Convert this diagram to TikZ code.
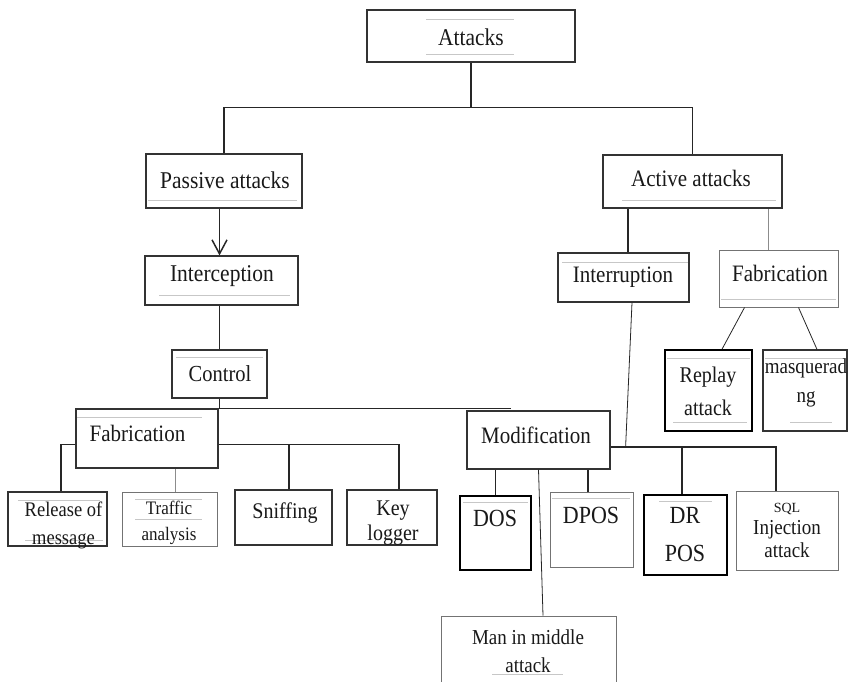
\documentclass[tikz,border=0pt]{standalone}
\usepackage{fontspec}
\setmainfont{Liberation Serif}
\usetikzlibrary{arrows.meta,calc}
\newcommand{\tallline}[1]{\scalebox{1}[1.12]{#1}}

\begin{document}
\begin{tikzpicture}[x=1pt,y=-1pt,
  box/.style={draw=black!80, line width=1.2pt, fill=white, inner sep=0pt},
  dbox/.style={box, draw=black, line width=1.6pt},
  lbox/.style={box, draw=black!55, line width=1pt},
  lbl/.style={font=\fontsize{21.5}{24}\selectfont, align=center, inner sep=0pt, text=black!90},
  link/.style={draw=black!85, line width=1.1pt},
  thinlink/.style={draw=black!85, line width=0.8pt},
  glink/.style={draw=black!45, line width=1pt},
  rule/.style={draw=black!22, line width=0.9pt},
  ]
\useasboundingbox (0,0) rectangle (848,681);

% ---------- boxes ----------
\node[box,  minimum width=208pt, minimum height=52pt] (attacks)      at (471,36)    {};
\node[box,  minimum width=156pt, minimum height=54pt] (passive)      at (224,181)   {};
\node[box,  minimum width=153pt, minimum height=49pt] (interception) at (221.5,280.5) {};
\node[box,  minimum width=95pt,  minimum height=48pt] (control)      at (219.5,374) {};
\node[box,  minimum width=142pt, minimum height=59pt] (fabL)         at (147,438.5) {};
\node[box,  minimum width=143pt, minimum height=58pt] (modification) at (538.5,440) {};
\node[box,  minimum width=99pt,  minimum height=54pt] (release)      at (57.5,519)  {};
\node[lbox, minimum width=95pt,  minimum height=54pt] (traffic)      at (169.5,519) {};
\node[box,  minimum width=97pt,  minimum height=55pt] (sniffing)     at (283.5,517.5) {};
\node[box,  minimum width=90pt,  minimum height=55pt] (keylogger)    at (392,517.5) {};
\node[dbox, minimum width=71pt,  minimum height=74pt] (dos)          at (495.5,533) {};
\node[lbox, minimum width=83pt,  minimum height=75pt] (dpos)         at (591.5,530) {};
\node[dbox, minimum width=83pt,  minimum height=80pt] (drpos)        at (685.5,535) {};
\node[lbox, minimum width=102pt, minimum height=79pt] (sql)          at (787,530.5) {};
\node[lbox, minimum width=175pt, minimum height=78pt] (mitm)         at (528.5,655) {};
\node[box,  minimum width=179pt, minimum height=53pt] (active)       at (692.5,181.5) {};
\node[box,  minimum width=131pt, minimum height=49pt] (interruption) at (623.5,277.5) {};
\node[lbox, minimum width=119pt, minimum height=57pt] (fabR)         at (778.5,278.5) {};
\node[dbox, minimum width=87pt,  minimum height=81pt] (replay)       at (708.5,390.5) {};
\node[box,  minimum width=84pt,  minimum height=81pt] (masq)         at (805,390.5) {};

% ---------- thin grey rules inside the boxes ----------
\draw[rule] (426,19) -- (514,19);  \draw[rule] (426,54) -- (514,54);
\draw[rule] (148,200) -- (297,200);
\draw[rule] (159,295) -- (290,295);
\draw[rule] (622,200) -- (776,200);
\draw[rule] (562,262) -- (688,262);
\draw[rule] (721,299) -- (836,299);
\draw[rule] (176,357) -- (263,357);
\draw[rule] (77,417) -- (202,417);
\draw[rule] (667,358) -- (750,358); \draw[rule] (673,422) -- (747,422);
\draw[rule] (765,358) -- (846,358); \draw[rule] (790,422) -- (832,422);
\draw[rule] (18,500) -- (100,500);  \draw[rule] (25,540) -- (103,540);
\draw[rule] (135,499) -- (202,499); \draw[rule] (135,519) -- (202,519);
\draw[rule] (463,502) -- (528,502);
\draw[rule] (552,498) -- (630,498);
\draw[rule] (659,501) -- (712,501);
\draw[rule] (492,674) -- (563,674);

% ---------- labels ----------
\node[lbl] (attacks-t)      at (471,37)  {\tallline{Attacks}};
\node[lbl] (passive-t)      at (225,180) {\tallline{Passive attacks}};
\node[lbl] (interception-t) at (222,276) {\tallline{Interception}};
\node[lbl, font=\fontsize{20.5}{24}\selectfont] (control-t) at (220,374) {\tallline{Control}};
\node[lbl, font=\fontsize{21}{24}\selectfont] (fabL-t) at (137.5,433) {\tallline{Fabrication}};
\node[lbl, font=\fontsize{21}{24}\selectfont] (modification-t) at (536,435) {\tallline{Modification}};
\node[lbl, font=\fontsize{18.5}{28}\selectfont] (release-t) at (63.5,525) {\tallline{Release of}\\\tallline{message}};
\node[lbl, font=\fontsize{17}{26}\selectfont] (traffic-t) at (169,523) {\tallline{Traffic}\\\tallline{analysis}};
\node[lbl, font=\fontsize{20}{24}\selectfont] (sniffing-t) at (285,513) {\tallline{Sniffing}};
\node[lbl, font=\fontsize{20}{25}\selectfont] (keylogger-t) at (393,523) {\tallline{Key}\\\tallline{logger}};
\node[lbl, font=\fontsize{22}{24}\selectfont] (dos-t)  at (495,518) {\tallline{DOS}};
\node[lbl, font=\fontsize{22}{24}\selectfont] (dpos-t) at (591,515) {\tallline{DPOS}};
\node[lbl, font=\fontsize{22}{38}\selectfont] (drpos-t) at (685,535) {\tallline{DR}\\\tallline{POS}};
\node[lbl, font=\fontsize{19}{22.5}\selectfont] (sql-t) at (787,530) {{\fontsize{14}{16}\selectfont SQL}\\\tallline{Injection}\\\tallline{attack}};
\node[lbl, font=\fontsize{19}{28}\selectfont] (mitm-t) at (528,651) {\tallline{Man in middle}\\\tallline{attack}};
\node[lbl, font=\fontsize{21}{24}\selectfont] (active-t) at (691,178) {\tallline{Active attacks}};
\node[lbl, font=\fontsize{21}{24}\selectfont] (interruption-t) at (623,277) {\tallline{Interruption}};
\node[lbl, font=\fontsize{21}{24}\selectfont] (fabR-t) at (780,273) {\tallline{Fabrication}};
\node[lbl, font=\fontsize{20}{33}\selectfont] (replay-t) at (708,391) {\tallline{Replay}\\\tallline{attack}};
\node[lbl, font=\fontsize{19}{29}\selectfont] (masq-t) at (806,383) {\tallline{masquerad}\\\tallline{ng}};

% ---------- connectors ----------
% root split
\draw[link] (attacks.south) -- ++(0,45) coordinate (topbus);
\draw[link] (passive.north) |- (topbus) -| (active.north);

% passive branch
\draw[link, line width=1.5pt, -{Straight Barb[length=14pt,width=15pt]}]
  (passive.south -| control.north) -- (interception.north -| control.north);
\draw[link] (interception.south -| control.north) -- (control.north);
\draw[link] (control.south) -- (control.south |- fabL.north) -- ++(291,0);

% left Fabrication children
\coordinate (busL) at ($(fabL.east)+(0,6)$);
\draw[link] ($(fabL.west)+(0,6)$) -| ([xshift=3.5pt]release.north);
\path ([xshift=5.5pt]traffic.north) coordinate (trIn);
\draw[glink] (trIn) -- (trIn |- fabL.south);
\draw[link] (busL) -| ([xshift=7pt]keylogger.north);
\path ([xshift=5.5pt]sniffing.north) coordinate (snIn);
\draw[link] (snIn) -- (snIn |- busL);

% Modification children
\coordinate (busR) at ($(modification.east)+(0,7)$);
\draw[link, line width=1.5pt] (busR) -| ([xshift=-11pt]sql.north);
\path ([xshift=-3.5pt]drpos.north) coordinate (drIn);
\draw[link] (drIn) -- (drIn |- busR);
\draw[link] (dos.north) -- (dos.north |- modification.south);
\path ([xshift=-3.5pt]dpos.north) coordinate (dpIn);
\draw[link] (dpIn) -- (dpIn |- modification.south);
\draw[thinlink] (modification.south) -- ([xshift=14.5pt]mitm.north);

% active branch
\path ([xshift=4.5pt]interruption.north) coordinate (irIn);
\draw[link] (irIn) -- (irIn |- active.south);
\path ([xshift=-10.5pt]fabR.north) coordinate (fbIn);
\draw[glink] (fbIn) -- (fbIn |- active.south);
\coordinate (irJoin) at ($(busR)+(15,0)$);
\draw[thinlink] ([xshift=8.5pt]interruption.south) -- (irJoin);
\draw[thinlink] ($(fabR.south west)+(26,0)$) -- ($(replay.north)+(13.5,0)$);
\draw[thinlink] ($(fabR.south west)+(80,0)$) -- ($(masq.north)+(12,0)$);
\end{tikzpicture}
\end{document}
